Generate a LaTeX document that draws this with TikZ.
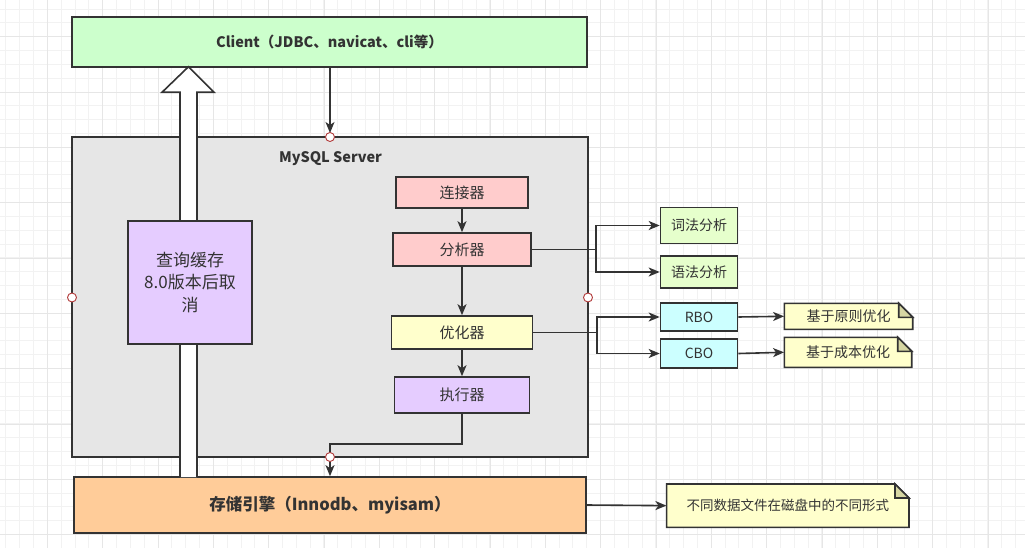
\documentclass[tikz,border=0pt]{standalone}
\usepackage{fontspec}
\setmainfont{Noto Sans CJK SC}
\usetikzlibrary{arrows.meta,calc,positioning}
\definecolor{ink}{HTML}{333333}
\definecolor{gridminor}{HTML}{F2F2F2}
\definecolor{gridmajor}{HTML}{E6E6E6}
\definecolor{cgreen}{HTML}{CCFFCC}
\definecolor{cgray}{HTML}{E6E6E6}
\definecolor{cpink}{HTML}{FFCCCC}
\definecolor{cyellow}{HTML}{FFFFCC}
\definecolor{cpurple}{HTML}{E5CCFF}
\definecolor{clime}{HTML}{E6FFCC}
\definecolor{ccyan}{HTML}{CCFFFF}
\definecolor{corange}{HTML}{FFCC99}
\definecolor{cfold}{HTML}{D6D6A3}
\definecolor{portred}{HTML}{B23A3A}
\tikzset{
  box/.style={draw=ink, line width=1.6pt, text=ink, inner sep=0pt, align=center},
  port/.style={circle, draw=portred, fill=white, line width=0.9pt, minimum size=9pt, inner sep=0pt},
  arr/.style={draw=ink, line width=1.6pt, -{Stealth[length=11pt,width=9pt,inset=3pt]}},
  ln/.style={draw=ink, line width=1.6pt},
  notebox/.style={inner sep=0pt, text=ink, align=center},
}
\newcommand{\fs}[1]{\fontsize{#1}{#1}\selectfont}
\begin{document}
\begin{tikzpicture}[x=1pt,y=-1pt]
\useasboundingbox (0,0) rectangle (1025,548);
\fill[white] (0,0) rectangle (1025,548);
% grid
\foreach \i in {0,...,73} {
  \draw[gridminor, line width=1pt] ({5.9+13.83*\i},0) -- ({5.9+13.83*\i},548);
}
\foreach \j in {0,...,39} {
  \draw[gridminor, line width=1pt] (0,{9.04+13.83*\j}) -- (1025,{9.04+13.83*\j});
}
\foreach \i in {0,...,17} {
  \draw[gridmajor, line width=1pt] ({47.4+55.33*\i},0) -- ({47.4+55.33*\i},548);
}
\foreach \j in {0,...,9} {
  \draw[gridmajor, line width=1pt] (0,{36.7+55.33*\j}) -- (1025,{36.7+55.33*\j});
}

% main boxes
\node[box, fill=cgreen, minimum width=515pt, minimum height=50pt, font=\fs{14.5}\bfseries] (client) at (329.5,42) {Client（JDBC、navicat、cli等）};
\node[box, fill=cgray, minimum width=516pt, minimum height=320pt] (server) at (330,297) {};
\node[text=ink, font=\fs{14.5}\bfseries, inner sep=0pt] (title) at (330.5,159) {MySQL Server};
\node[box, fill=corange, minimum width=511.5pt, minimum height=56pt, font=\fs{16.5}\bfseries] (storage) at (330,505) {存储引擎（Innodb、myisam）};

% big hollow arrow
\coordinate (bigbase) at (188.5,477);
\coordinate (bigtip) at (188.5,66.7);
\draw[draw=ink, line width=1.6pt, fill=white, line join=miter]
  ($(bigbase)+(-8.5,0)$) -- ($(bigtip)+(-8.5,25.6)$) -- ($(bigtip)+(-26.5,25.6)$) -- (bigtip)
  -- ($(bigtip)+(25.5,25.6)$) -- ($(bigtip)+(8.5,25.6)$) -- ($(bigbase)+(8.5,0)$);

\node[box, fill=cpurple, minimum width=124pt, minimum height=123pt, font=\fontsize{17}{22.5}\selectfont] (cache) at (190,282.5) {查询缓存\\8.0版本后取\\消};

% chain
\node[box, fill=cpink, minimum width=132pt, minimum height=31pt, font=\fs{15}] (conn) at (462,192.5) {连接器};
\node[box, fill=cpink, minimum width=138pt, minimum height=33pt, font=\fs{15}] (ana) at (462,249.5) {分析器};
\node[box, fill=cyellow, minimum width=141pt, minimum height=33pt, font=\fs{15}] (opt) at (462,332.5) {优化器};
\node[box, fill=cpurple, minimum width=135pt, minimum height=36pt, font=\fs{15}] (exe) at (462,395) {执行器};

% side boxes
\node[box, fill=clime, minimum width=77pt, minimum height=36pt, font=\fs{14}] (lex) at (699,225.5) {词法分析};
\node[box, fill=clime, minimum width=77pt, minimum height=32pt, font=\fs{14}] (syn) at (699,272) {语法分析};
\node[box, fill=ccyan, minimum width=77pt, minimum height=28pt, font=\fs{14}] (rbo) at (699,317) {RBO};
\node[box, fill=ccyan, minimum width=77pt, minimum height=29pt, font=\fs{14}] (cbo) at (699,353.5) {CBO};

% notes
\newcommand{\drawnote}[6]{%
  \draw[ink, line width=1.6pt, fill=cyellow, line join=miter] (#2,#3) -- ({#4-14},#3) -- (#4,{#3+14}) -- (#4,#5) -- (#2,#5) -- cycle;
  \draw[ink, line width=1.6pt, fill=cfold, line join=miter] ({#4-14},#3) -- ({#4-14},{#3+14}) -- (#4,{#3+14}) -- cycle;
  \path (#2,#3) -- (#4,#5) node[midway, notebox, minimum width={(#4-#2)*1pt}, minimum height={(#5-#3)*1pt}] (#1) {#6};
}
\drawnote{note1}{784.3}{303.3}{912.7}{329.3}{\fs{14}基于原则优化}
\drawnote{note2}{784.3}{337.3}{911.7}{367.3}{\fs{14}基于成本优化}
\drawnote{note3}{666.6}{484}{909}{527.3}{\fs{13.5}不同数据文件在磁盘中的不同形式}

% ports
\coordinate (pTopC) at (330,137);
\coordinate (pBotC) at (330,457);
\coordinate (splitA) at (596,249.5);
\coordinate (splitO) at (597,332.5);
\coordinate (bend) at (330,444);

% connectors
\draw[arr] (client.south -| pTopC) -- ($(pTopC)+(0,-4)$);
\draw[arr] (conn) -- (ana);
\draw[arr] (ana) -- (opt);
\draw[arr] (opt) -- (exe);
\draw[ln] (ana.east) -- (splitA);
\draw[arr] (splitA) |- (lex.west);
\draw[arr] (splitA) |- (syn.west);
\draw[ln] (opt.east) -- (splitO);
\draw[arr] (splitO) |- (rbo.west);
\draw[arr] (splitO) |- (cbo.west);
\draw[arr] (rbo.east) -- (note1.west);
\draw[arr] (cbo.east) -- (note2.west);
\draw[arr] (exe.south) |- (bend) -- (storage.north -| bend);
\draw[arr] (storage.east) -- (note3.west);

\node[port] (pTop) at (pTopC) {};
\node[port] (pBot) at (pBotC) {};
\node[port] (pLeft) at (72,297.5) {};
\node[port] (pRight) at (588,297.5) {};
\end{tikzpicture}
\end{document}
